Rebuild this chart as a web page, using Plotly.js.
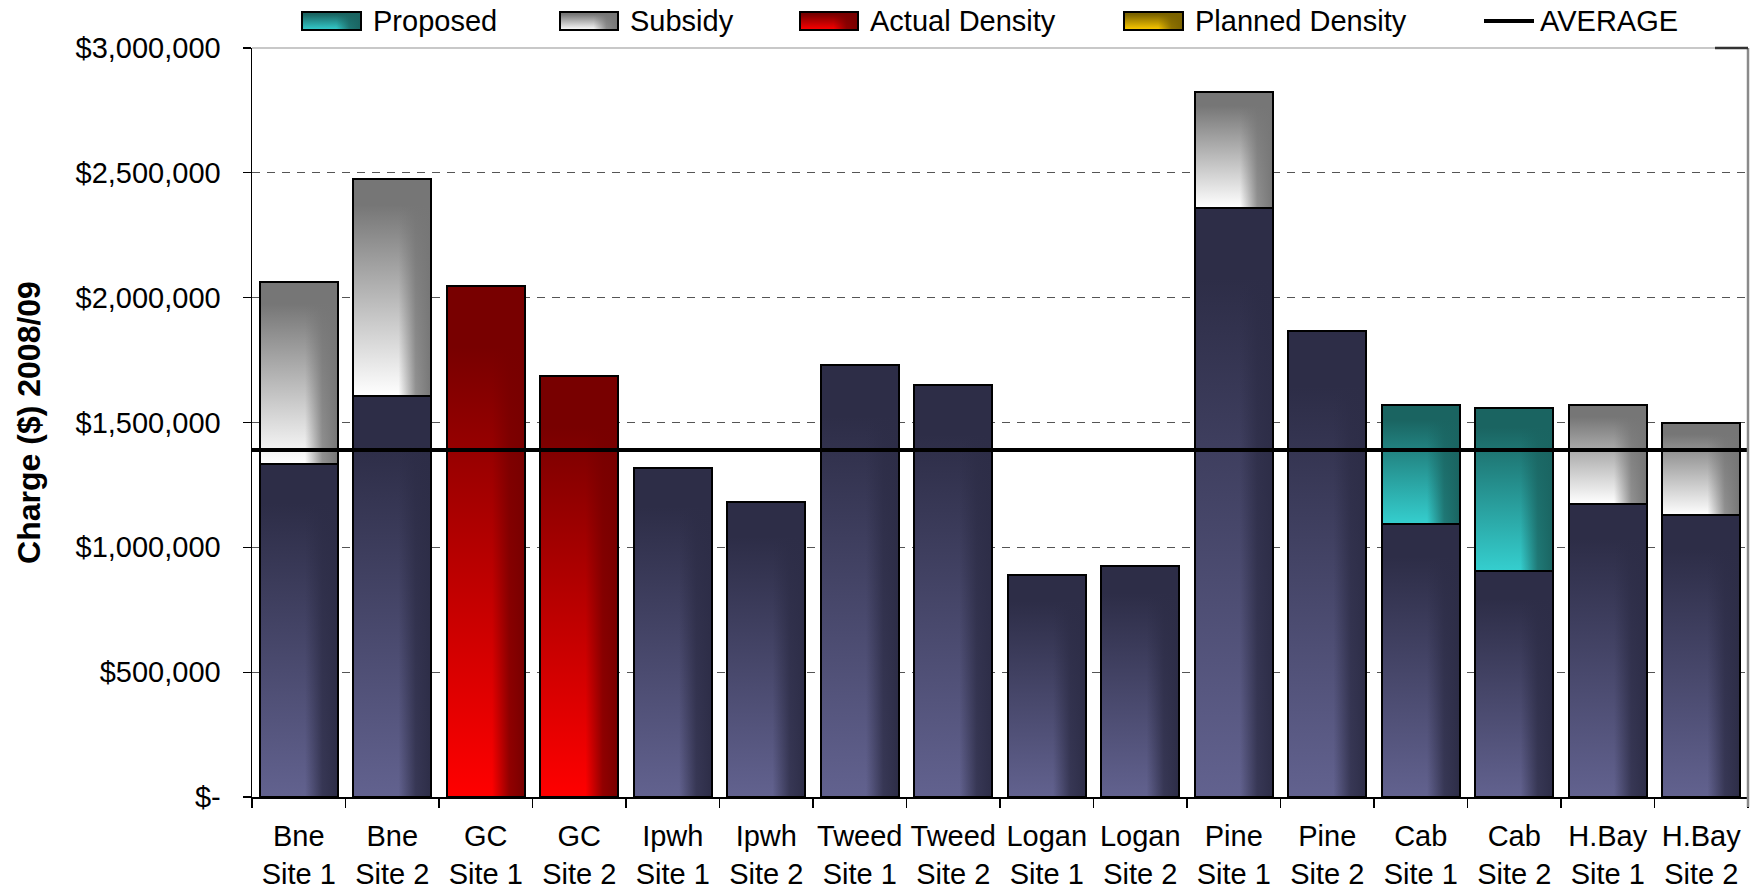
<!DOCTYPE html>
<html>
<head>
<meta charset="utf-8">
<script src="https://cdn.plot.ly/plotly-3.0.1.min.js"></script>
<style>
html,body{margin:0;padding:0;background:#ffffff;}
#chart{width:1756px;height:892px;}
</style>
</head>
<body>
<div id="chart"></div>
<script>
// ---------------- DATA ----------------
const categories = [
  'Bne<br>Site 1','Bne<br>Site 2','GC<br>Site 1','GC<br>Site 2',
  'Ipwh<br>Site 1','Ipwh<br>Site 2','Tweed<br>Site 1','Tweed<br>Site 2',
  'Logan<br>Site 1','Logan<br>Site 2','Pine<br>Site 1','Pine<br>Site 2',
  'Cab<br>Site 1','Cab<br>Site 2','H.Bay<br>Site 1','H.Bay<br>Site 2'
];
// base charge (navy bars)
const baseCharge = [1335000,1606000,null,null,1319000,1183000,1732000,1650000,
                    889000,925000,2360000,1866000,1092000,904000,1174000,1128000];
// Actual Density (red)
const actualDensity = [null,null,2047000,1686000,null,null,null,null,
                       null,null,null,null,null,null,null,null];
// Proposed (teal) stacked on base
const proposed = [null,null,null,null,null,null,null,null,
                  null,null,null,null,477000,655000,null,null];
// Subsidy (grey) stacked on base
const subsidy = [726000,869000,null,null,null,null,null,null,
                 null,null,464000,null,null,null,396000,369000];
// Planned Density (gold) - no visible values
const plannedDensity = [null,null,null,null,null,null,null,null,
                        null,null,null,null,null,null,null,null];
// AVERAGE line
const averageValue = [1390000, 1390000];
const averageSpan = [0, 1];

const yTickVals = [0,500000,1000000,1500000,2000000,2500000,3000000];
const yTickText = ['$-','$500,000','$1,000,000','$1,500,000','$2,000,000','$2,500,000','$3,000,000'];
const yTitle = 'Charge ($) 2008/09';
const legendNames = ['Proposed','Subsidy','Actual Density','Planned Density','AVERAGE'];

// ---------------- STYLE ----------------
const W = 1756, H = 892;
const M = {l:252, r:8, t:48, b:95};
const PW = W - M.l - M.r, PH = H - M.t - M.b;
const px2x = p => (p - M.l) / PW;
const px2y = p => (H - M.b - p) / PH;

const palette = {
  navy:   {dark:'#2d2d47', light:'#62628f', base:'#3f3f62'},
  red:    {dark:'#780000', light:'#ff0000', base:'#b00000'},
  teal:   {dark:'#1a6461', light:'#35cfcf', base:'#26a0a0'},
  grey:   {dark:'#767676', light:'#ffffff', base:'#b0b0b0'},
  gold:   {dark:'#7a6200', light:'#ffcc00', base:'#c8a000'}
};

function barTrace(y, key, name){
  return {
    type:'bar', x:categories, y:y, name:name,
    marker:{color:palette[key].base, line:{color:'#000000', width:2}},
    showlegend:false, hoverinfo:'x+y'
  };
}

const traces = [
  barTrace(baseCharge, 'navy', 'Charge'),
  barTrace(actualDensity, 'red', legendNames[2]),
  barTrace(proposed, 'teal', legendNames[0]),
  barTrace(subsidy, 'grey', legendNames[1]),
  barTrace(plannedDensity, 'gold', legendNames[3]),
  {
    type:'scatter', mode:'lines', x:averageSpan, y:averageValue,
    xaxis:'x2', yaxis:'y', name:legendNames[4],
    line:{color:'#000000', width:4}, showlegend:false, hoverinfo:'y'
  }
];
const barKeys = ['navy','red','teal','grey','gold'];

// legend (manual) geometry in pixels
const legendItems = [
  {name:legendNames[0], key:'teal', x0:302, x1:361, tx:371},
  {name:legendNames[1], key:'grey', x0:560, x1:618, tx:628},
  {name:legendNames[2], key:'red',  x0:800, x1:858, tx:868},
  {name:legendNames[3], key:'gold', x0:1124,x1:1183,tx:1193},
  {name:legendNames[4], key:null,   x0:1484,x1:1534,tx:1538}
];
const legY0 = 12, legY1 = 30, legYc = 21;

const shapes = [];
const annotations = [];
const swatchShapeIdx = [];
legendItems.forEach(it => {
  if (it.key) {
    swatchShapeIdx.push({idx:shapes.length, key:it.key});
    shapes.push({type:'rect', xref:'paper', yref:'paper',
      x0:px2x(it.x0), x1:px2x(it.x1), y0:px2y(legY1), y1:px2y(legY0),
      fillcolor:palette[it.key].base, line:{color:'#000', width:2}, layer:'above'});
  } else {
    shapes.push({type:'line', xref:'paper', yref:'paper',
      x0:px2x(it.x0), x1:px2x(it.x1), y0:px2y(legYc), y1:px2y(legYc),
      line:{color:'#000', width:4}, layer:'above'});
  }
  annotations.push({xref:'paper', yref:'paper', x:px2x(it.tx), y:px2y(legYc),
    xanchor:'left', yanchor:'middle', text:it.name, showarrow:false,
    font:{size:29, color:'#000'}});
});
// plot-area top border (light grey), right border (grey), top-right dark tick
shapes.push({type:'line', xref:'paper', yref:'paper', x0:0, x1:1, y0:1, y1:1,
  line:{color:'#c8c8c8', width:2}, layer:'above'});
shapes.push({type:'line', xref:'paper', yref:'paper', x0:1, x1:1, y0:px2y(807), y1:1,
  line:{color:'#8a8a8a', width:2.5}, layer:'above'});
shapes.push({type:'line', xref:'paper', yref:'paper', x0:px2x(1715), x1:1, y0:1, y1:1,
  line:{color:'#333333', width:2.5}, layer:'above'});

const layout = {
  width:W, height:H,
  margin:M,
  paper_bgcolor:'#ffffff', plot_bgcolor:'#ffffff',
  font:{family:'"Liberation Sans", Arial, sans-serif', size:29, color:'#000000'},
  barmode:'stack', bargap:0.163,
  showlegend:false,
  xaxis:{
    type:'category', tickson:'boundaries', ticks:'outside', ticklen:9,
    tickwidth:1.3, tickcolor:'#000', showline:true, linecolor:'#000', linewidth:1.5,
    showgrid:false, zeroline:false, tickfont:{size:29, color:'#000'},
    tickangle:0, ticklabelstandoff:13, automargin:false
  },
  xaxis2:{overlaying:'x', range:[0,1], visible:false, fixedrange:true},
  yaxis:{
    range:[0,3000000], tickmode:'array', tickvals:yTickVals, ticktext:yTickText,
    ticks:'outside', ticklen:8, tickwidth:1.3, tickcolor:'#000',
    showline:true, linecolor:'#000', linewidth:1.5,
    showgrid:true, gridcolor:'#555555', gridwidth:1, griddash:'8px,7px',
    zeroline:false, tickfont:{size:29, color:'#000'}, ticklabelstandoff:16,
    automargin:false,
    title:{text:'<b>'+yTitle+'</b>', font:{size:32, color:'#000'}, standoff:25}
  },
  shapes:shapes,
  annotations:annotations
};

const gd = document.getElementById('chart');
Plotly.newPlot(gd, traces, layout, {displayModeBar:false, staticPlot:true}).then(() => {
  const svgNS = 'http://www.w3.org/2000/svg';
  const svg = gd.querySelector('svg.main-svg');
  let defs = svg.querySelector('defs');
  if (!defs) { defs = document.createElementNS(svgNS,'defs'); svg.insertBefore(defs, svg.firstChild); }
  function grad(id, x2, y2, stops){
    const g = document.createElementNS(svgNS,'linearGradient');
    g.setAttribute('id', id);
    g.setAttribute('x1','0'); g.setAttribute('y1','0');
    g.setAttribute('x2', x2); g.setAttribute('y2', y2);
    stops.forEach(s => {
      const st = document.createElementNS(svgNS,'stop');
      st.setAttribute('offset', s[0]);
      st.setAttribute('stop-color', s[1]);
      st.setAttribute('stop-opacity', s[2] === undefined ? 1 : s[2]);
      g.appendChild(st);
    });
    defs.appendChild(g);
  }
  Object.keys(palette).forEach(k => {
    const p = palette[k];
    grad('gv-'+k, '0', '1', [[0,p.dark],[0.12,p.dark],[1,p.light]]);
    grad('gh-'+k, '1', '0', [[0,p.dark,0],[0.58,p.dark,0],[0.8,p.dark,0.8],[1,p.dark,1]]);
  });
  function shade(path, key){
    const c1 = path.cloneNode(false);
    const c2 = path.cloneNode(false);
    [c1,c2].forEach(c => { c.style.stroke = 'none'; c.style.strokeWidth = '0'; c.style.fillOpacity = '1'; });
    c1.style.fill = 'url(#gv-'+key+')';
    c2.style.fill = 'url(#gh-'+key+')';
    path.parentNode.insertBefore(c1, path);
    path.parentNode.insertBefore(c2, path);
    path.style.fill = 'none';
  }
  const barGroups = gd.querySelectorAll('.barlayer .trace');
  barGroups.forEach((g, i) => {
    const key = barKeys[i];
    g.querySelectorAll('g.point path').forEach(p => shade(p, key));
  });
  swatchShapeIdx.forEach(s => {
    const p = gd.querySelector('.shapelayer path[data-index="'+s.idx+'"]');
    if (p) shade(p, s.key);
  });
});
</script>
</body>
</html>
